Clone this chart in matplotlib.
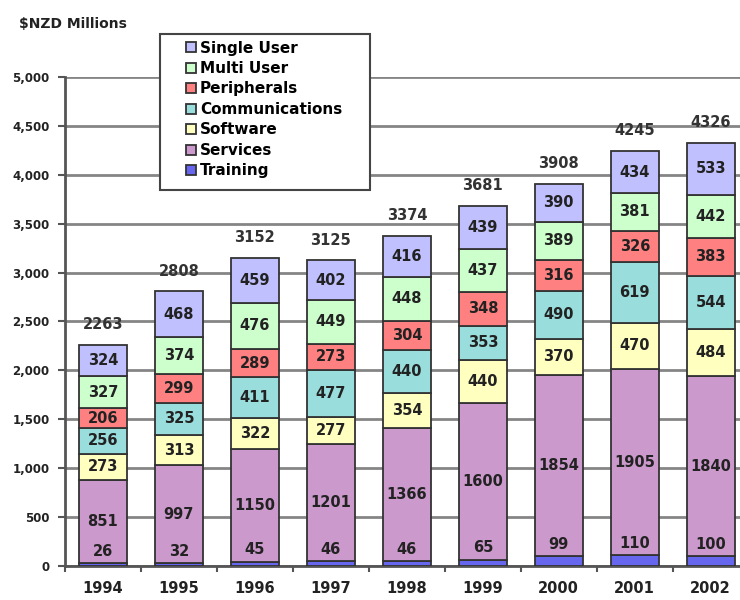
import matplotlib
matplotlib.use("Agg")
import matplotlib.pyplot as plt
from matplotlib.patches import Rectangle
from matplotlib.ticker import FuncFormatter, MultipleLocator, FixedLocator

# ── Data ────────────────────────────────────────────────────────────────────
years = ["1994", "1995", "1996", "1997", "1998", "1999", "2000", "2001", "2002"]
training = [26, 32, 45, 46, 46, 65, 99, 110, 100]
services = [851, 997, 1150, 1201, 1366, 1600, 1854, 1905, 1840]
software = [273, 313, 322, 277, 354, 440, 370, 470, 484]
communications = [256, 325, 411, 477, 440, 353, 490, 619, 544]
peripherals = [206, 299, 289, 273, 304, 348, 316, 326, 383]
multi_user = [327, 374, 476, 449, 448, 437, 389, 381, 442]
single_user = [324, 468, 459, 402, 416, 439, 390, 434, 533]
totals = [2263, 2808, 3152, 3125, 3374, 3681, 3908, 4245, 4326]

series = [
    ("Training", training, "#6666EE"),
    ("Services", services, "#CC99CC"),
    ("Software", software, "#FFFFC0"),
    ("Communications", communications, "#99DDDD"),
    ("Peripherals", peripherals, "#FF8080"),
    ("Multi User", multi_user, "#CCFFCC"),
    ("Single User", single_user, "#C0C0FF"),
]

TXT = "#222222"
GRID = "#858585"
AXIS = "#555555"

fig = plt.figure(figsize=(7.4, 6.0), dpi=100)
fig.patch.set_facecolor("white")
ax = fig.add_axes([0.0878, 0.0567, 0.924, 0.815])

x = list(range(len(years)))
bottom = [0] * len(years)
handles = []
for name, vals, col in series:
    bars = ax.bar(x, vals, width=0.63, bottom=bottom, color=col,
                  edgecolor="#333333", linewidth=1.3, label=name, zorder=3)
    handles.append(bars)
    for i, v in enumerate(vals):
        if name == "Training":
            ypos = v + 120   # sits just above the thin training slice
        else:
            ypos = bottom[i] + v / 2
        ax.text(i, ypos, str(v), ha="center", va="center", fontsize=10.5,
                fontweight="bold", color=TXT, zorder=4)
    bottom = [b + v for b, v in zip(bottom, vals)]

# totals above each stack
for i, t in enumerate(totals):
    ax.text(i, bottom[i] + 205, str(t), ha="center", va="center",
            fontsize=10.5, fontweight="bold", color="#333333", zorder=4)

ax.set_xlim(-0.5, 8.5)
ax.set_ylim(0, 5000)
ax.yaxis.set_major_locator(MultipleLocator(500))
ax.yaxis.set_major_formatter(FuncFormatter(lambda v, p: f"{int(v):,}"))
ax.yaxis.grid(True, color=GRID, linewidth=2.0, zorder=0)
ax.set_axisbelow(True)

ax.set_xticks(x)
ax.set_xticklabels(years, fontsize=10.5, fontweight="bold", color=TXT)
ax.tick_params(axis="x", length=0, pad=11)
ax.xaxis.set_minor_locator(FixedLocator([i + 0.5 for i in range(-1, 9)]))
ax.tick_params(axis="x", which="minor", length=4, width=1.5, color=AXIS)
ax.tick_params(axis="y", length=5, width=1.5, color=AXIS, labelsize=8.5, pad=6)
for lbl in ax.get_yticklabels():
    lbl.set_fontweight("bold")
    lbl.set_color(TXT)

for s in ("top", "right"):
    ax.spines[s].set_visible(False)
for s in ("left", "bottom"):
    ax.spines[s].set_color(AXIS)
    ax.spines[s].set_linewidth(2.0)

fig.text(0.026, 0.960, "$NZD Millions", fontsize=10, fontweight="bold",
         color=TXT, ha="left", va="center")

# legend box drawn separately so it matches the wider Excel frame
frame = Rectangle((0.2162, 0.6833), 0.2838, 0.26, transform=fig.transFigure,
                  facecolor="white", edgecolor="#444444", linewidth=1.5,
                  zorder=5)
fig.patches.append(frame)

leg = fig.legend(handles[::-1], [s[0] for s in series][::-1],
                 loc="upper left", bbox_to_anchor=(0.2514, 0.9325),
                 borderaxespad=0, frameon=False,
                 prop={"weight": "bold", "size": 11},
                 handlelength=0.65, handleheight=0.65, handletextpad=0.25,
                 labelspacing=0.36, borderpad=0)
leg.set_zorder(10)

fig.savefig("out.png", dpi=100, facecolor="white")
